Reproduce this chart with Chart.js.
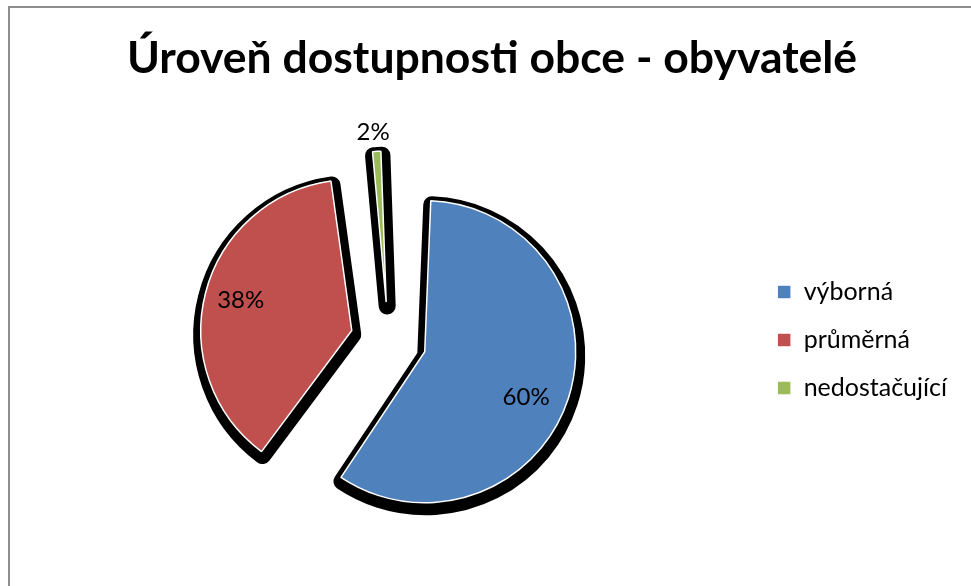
<!DOCTYPE html>
<html><head><meta charset="utf-8">
<script src="https://cdn.jsdelivr.net/npm/chart.js@4"></script>
<style>
html,body{margin:0;padding:0;background:#fff;overflow:hidden;width:971px;height:586px;}
#frame{position:absolute;left:8px;top:6px;width:1000px;height:700px;border:2px solid #8e8e8e;box-sizing:border-box;}
#wrap{position:absolute;left:0;top:0;width:971px;height:586px;}
</style></head><body>
<div id="frame"></div>
<div id="wrap"><canvas id="c" width="971" height="586"></canvas></div>
<script>
const titleText = 'Úroveň dostupnosti obce - obyvatelé';
const categories = ['výborná', 'průměrná', 'nedostačující'];
const values = [60, 38, 2];
const colors = ['#4F81BD', '#C0504D', '#9BBB59'];

const R = 151;        // slice radius in px
const EXPLODE = 38;   // explosion distance in px
const TITLE_DX = 2;   // small horizontal nudge of the title

const titleNudge = {
  id: 'titleNudge',
  afterLayout(chart) {
    const t = chart.titleBlock;
    if (t) { t.left += TITLE_DX; t.right += TITLE_DX; }
  }
};

const radiusFix = {
  id: 'radiusFix',
  afterDatasetUpdate(chart, args) {
    args.meta.data.forEach(el => {
      const shift = (el.options.offset || 0) / 4;
      const fix = 1 - Math.sin(Math.min(Math.PI, el.circumference || 0));
      el.outerRadius = R - shift * fix;
    });
  }
};

const shadowPlugin = {
  id: 'shadow',
  beforeDatasetsDraw(chart) {
    const ctx = chart.ctx;
    chart.getDatasetMeta(0).data.forEach(el => {
      const o = el.options;
      el.options = Object.assign({}, o, {backgroundColor: '#000', borderColor: '#000', borderWidth: 17, borderJoinStyle: 'round'});
      ctx.save();
      ctx.translate(1, 4);
      el.draw(ctx);
      ctx.restore();
      el.options = o;
    });
  }
};

const labelPlugin = {
  id: 'pctLabels',
  afterDatasetsDraw(chart, args, opts) {
    const ctx = chart.ctx;
    const meta = chart.getDatasetMeta(0);
    const data = chart.data.datasets[0].data;
    const total = data.reduce((a, b) => a + b, 0);
    ctx.save();
    ctx.font = opts.font;
    ctx.fillStyle = '#000';
    ctx.textAlign = 'center';
    ctx.textBaseline = 'middle';
    meta.data.forEach((el, i) => {
      const mid = (el.startAngle + el.endAngle) / 2;
      const shift = (el.options.offset || 0) / 4;
      const cx = el.x + Math.cos(mid) * shift;
      const cy = el.y + Math.sin(mid) * shift;
      const a = mid + opts.angle[i] * Math.PI / 180;
      const r = opts.dist[i];
      ctx.fillText(Math.round(data[i] / total * 100) + '%', cx + Math.cos(a) * r, cy + Math.sin(a) * r);
    });
    ctx.restore();
  }
};

new Chart(document.getElementById('c'), {
  type: 'pie',
  data: {
    labels: categories,
    datasets: [{
      data: values,
      backgroundColor: colors,
      borderColor: '#ffffff',
      borderWidth: 1.5,
      offset: EXPLODE * 4,
      radius: R
    }]
  },
  options: {
    responsive: false,
    animation: false,
    events: [],
    layout: {padding: {left: 23, right: 14, top: 0, bottom: 0}},
    plugins: {
      title: {
        display: true,
        text: titleText,
        color: '#000',
        font: {family: 'Lato', weight: 'bold', size: 44.5, lineHeight: 1.2},
        padding: {top: 32, bottom: 8.6}
      },
      legend: {
        position: 'right',
        title: {display: true, text: ' ', font: {size: 10, lineHeight: 1}, padding: {top: 84, bottom: 0}},
        labels: {
          boxWidth: 14, boxHeight: 14, padding: 23, color: '#000',
          font: {family: 'Lato', size: 25}
        }
      },
      tooltip: {enabled: false},
      pctLabels: {font: '24px Lato', dist: [111, 115, 170], angle: [6, 0.7, -0.8]}
    }
  },
  plugins: [titleNudge, radiusFix, shadowPlugin, labelPlugin]
});
</script>
</body></html>
